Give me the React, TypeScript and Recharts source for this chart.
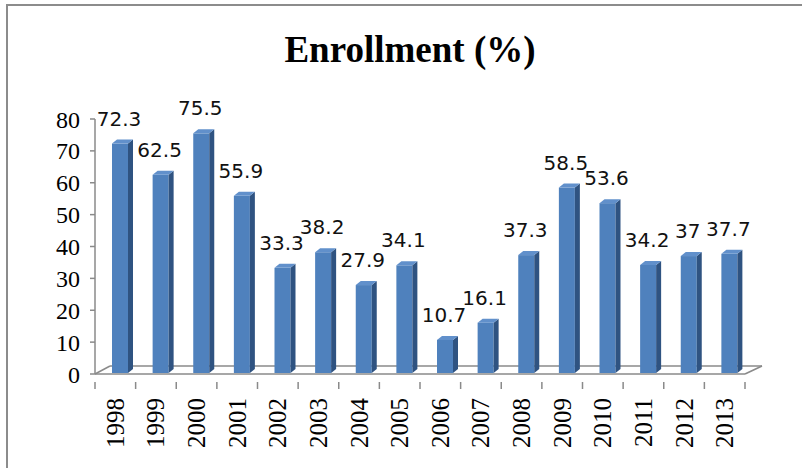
import React from "react";
import { BarChart, Bar, XAxis, YAxis, ReferenceArea } from "recharts";

const years = ["1998", "1999", "2000", "2001", "2002", "2003", "2004", "2005", "2006", "2007", "2008", "2009", "2010", "2011", "2012", "2013"];
const enrollment = [72.3, 62.5, 75.5, 55.9, 33.3, 38.2, 27.9, 34.1, 10.7, 16.1, 37.3, 58.5, 53.6, 34.2, 37, 37.7];
const yTicks = [0, 10, 20, 30, 40, 50, 60, 70, 80];

const chartData = years.map((year, i) => ({ year, value: enrollment[i] }));

const AXIS = "#8a8a8a";
const FRONT = "#4f81bd";
const SIDE = "#2f5381";
const TOP = "#6190cb";
const SHIFT = 5; // bars sit a little right of the band centre (3D look)
const DEPTH_X = 5;
const DEPTH_Y = 4;

function Bar3D(props: any) {
    const { x, y, width, height } = props;
    if (height == null || height <= 0) return null;
    const fx = x + SHIFT;
    const bottom = y + height - 1;
    return (
        <g>
            <rect x={fx} y={y} width={width} height={bottom - y} fill={FRONT} />
            <polygon
                points={`${fx + width},${y} ${fx + width + DEPTH_X},${y - DEPTH_Y} ${fx + width + DEPTH_X},${bottom - DEPTH_Y} ${fx + width},${bottom}`}
                fill={SIDE}
            />
            <polygon
                points={`${fx},${y} ${fx + DEPTH_X},${y - DEPTH_Y} ${fx + width + DEPTH_X},${y - DEPTH_Y} ${fx + width},${y}`}
                fill={TOP}
            />
        </g>
    );
}

function ValueLabel(props: any) {
    const { x, y, width, value } = props;
    return (
        <text
            x={x + SHIFT + width / 2 - 1}
            y={y - 18}
            textAnchor="middle"
            fontFamily="DejaVu Sans"
            fontSize={20}
            fill="#111"
        >
            {value}
        </text>
    );
}

// floor of the 3D plot: front edge is the x axis, back edge sits behind the bars
function Floor(props: any) {
    const { x, y, width, height } = props;
    const by = y + height;
    const back = by - 8;
    return (
        <g stroke={AXIS} strokeWidth={1.5} fill="none">
            <line x1={x} y1={by} x2={x + 15} y2={back} />
            <line x1={x + 15} y1={back} x2={x + width + 17} y2={back} />
            <line x1={x + width + 17} y1={back} x2={x + width} y2={by} />
        </g>
    );
}

function YearTick(props: any) {
    const { x, y, payload, index } = props;
    const band = 650 / years.length;
    return (
        <g transform={`translate(${x},${y})`}>
            <line x1={-band / 2} y1={0} x2={-band / 2} y2={7} stroke={AXIS} strokeWidth={1.5} />
            {index === years.length - 1 && (
                <line x1={band / 2} y1={0} x2={band / 2} y2={7} stroke={AXIS} strokeWidth={1.5} />
            )}
            <text
                transform="rotate(-90)"
                x={-16}
                y={0}
                textAnchor="end"
                dominantBaseline="central"
                fontFamily="Liberation Serif"
                fontSize={25}
                fill="#000"
            >
                {payload.value}
            </text>
        </g>
    );
}

export default function App() {
    return (
        <div style={{ position: "absolute", left: 0, top: 0, width: 802, height: 468, background: "#fff", overflow: "hidden" }}>
            <div
                style={{
                    position: "absolute",
                    left: 6,
                    top: 4,
                    width: 900,
                    height: 600,
                    borderTop: "2px solid #8c8c8c",
                    borderLeft: "2px solid #8c8c8c",
                }}
            />
            <div
                style={{
                    position: "absolute",
                    left: 0,
                    top: 30,
                    width: 820,
                    textAlign: "center",
                    fontFamily: "Liberation Serif",
                    fontWeight: "bold",
                    fontSize: 37,
                    lineHeight: "40px",
                    color: "#000",
                }}
            >
                Enrollment (%)
            </div>
            <div style={{ position: "absolute", left: 0, top: 0 }}>
                <BarChart width={802} height={468} data={chartData} margin={{ top: 119, right: 57, bottom: 0, left: 35 }}>
                    <ReferenceArea y1={0} y2={2.5} shape={<Floor />} fill="none" />
                    <XAxis
                        dataKey="year"
                        interval={0}
                        tickLine={false}
                        axisLine={{ stroke: AXIS, strokeWidth: 1.5 }}
                        tick={<YearTick />}
                        height={94}
                    />
                    <YAxis
                        domain={[0, 80]}
                        ticks={yTicks}
                        interval={0}
                        width={60}
                        tickSize={5}
                        tickMargin={10}
                        tickLine={{ stroke: AXIS, strokeWidth: 1.5 }}
                        axisLine={{ stroke: AXIS, strokeWidth: 1.5 }}
                        tick={{ fontFamily: "Liberation Serif", fontSize: 24, fill: "#000" }}
                    />
                    <Bar
                        dataKey="value"
                        barSize={16}
                        shape={<Bar3D />}
                        label={<ValueLabel />}
                        isAnimationActive={false}
                    />
                </BarChart>
            </div>
        </div>
    );
}
